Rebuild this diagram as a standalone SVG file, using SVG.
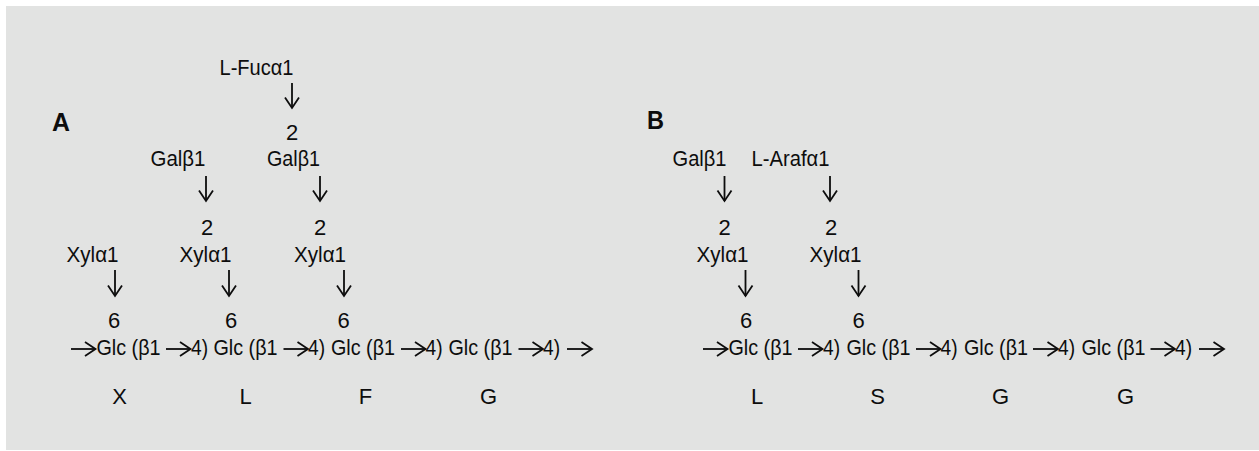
<svg xmlns="http://www.w3.org/2000/svg" width="1259" height="451" viewBox="0 0 1259 451">
<defs>
<style>
.t{font-family:"Liberation Sans",Arial,sans-serif;font-size:22px;fill:#0d0d0d}
.m{text-anchor:middle}
.h{font-family:"Liberation Sans",Arial,sans-serif;font-size:25px;font-weight:bold;fill:#0d0d0d}
.a{fill:none;stroke:#0d0d0d;stroke-width:1.8;marker-end:url(#ah)}
</style>
<marker id="ah" viewBox="-13 -9 16 18" refX="0" refY="0" markerWidth="16" markerHeight="18" markerUnits="userSpaceOnUse" orient="auto">
<path d="M-10.5,-7 L0,0 L-10.5,7" fill="none" stroke="#0d0d0d" stroke-width="1.8"/>
</marker>
</defs>
<rect x="6" y="6" width="1253" height="444" fill="#e2e3e2"/>

<g id="panelA-label"><text class="h" x="52" y="131" textLength="18" lengthAdjust="spacingAndGlyphs">A</text></g>
<g id="A-fuc"><text class="t" x="219.5" y="75" textLength="74" lengthAdjust="spacingAndGlyphs">L-Fucα1</text><text class="t m" x="292" y="140">2</text></g>
<g id="A-gal1"><text class="t" x="150.5" y="166" textLength="55" lengthAdjust="spacingAndGlyphs">Galβ1</text><text class="t m" x="207" y="235">2</text></g>
<g id="A-gal2"><text class="t" x="267" y="166" textLength="53" lengthAdjust="spacingAndGlyphs">Galβ1</text><text class="t m" x="320" y="235">2</text></g>
<g id="A-xyl1"><text class="t" x="66.5" y="262" textLength="52" lengthAdjust="spacingAndGlyphs">Xylα1</text><text class="t m" x="114" y="328">6</text></g>
<g id="A-xyl2"><text class="t" x="179.5" y="262" textLength="52" lengthAdjust="spacingAndGlyphs">Xylα1</text><text class="t m" x="231" y="328">6</text></g>
<g id="A-xyl3"><text class="t" x="294" y="262" textLength="52" lengthAdjust="spacingAndGlyphs">Xylα1</text><text class="t m" x="343.5" y="328">6</text></g>
<g id="A-chain">
<text class="t" x="96.5" y="355" textLength="64" lengthAdjust="spacingAndGlyphs">Glc (β1</text><text class="t" x="191" y="355" textLength="17" lengthAdjust="spacingAndGlyphs">4)</text>
<text class="t" x="213.5" y="355" textLength="64" lengthAdjust="spacingAndGlyphs">Glc (β1</text><text class="t" x="308" y="355" textLength="17" lengthAdjust="spacingAndGlyphs">4)</text>
<text class="t" x="331" y="355" textLength="64" lengthAdjust="spacingAndGlyphs">Glc (β1</text><text class="t" x="425.5" y="355" textLength="17" lengthAdjust="spacingAndGlyphs">4)</text>
<text class="t" x="448.5" y="355" textLength="64" lengthAdjust="spacingAndGlyphs">Glc (β1</text><text class="t" x="543" y="355" textLength="17" lengthAdjust="spacingAndGlyphs">4)</text>
</g>
<g id="A-codes">
<text class="t m" x="119.5" y="404">X</text>
<text class="t m" x="245.5" y="404">L</text>
<text class="t m" x="365.5" y="404">F</text>
<text class="t m" x="488.5" y="404">G</text>
</g>

<g id="panelB-label"><text class="h" x="647" y="129" textLength="17" lengthAdjust="spacingAndGlyphs">B</text></g>
<g id="B-gal"><text class="t" x="672.5" y="166" textLength="54" lengthAdjust="spacingAndGlyphs">Galβ1</text><text class="t m" x="724.5" y="235">2</text></g>
<g id="B-ara"><text class="t" x="751.5" y="166" textLength="78" lengthAdjust="spacingAndGlyphs">L-Arafα1</text><text class="t m" x="831" y="235">2</text></g>
<g id="B-xyl1"><text class="t" x="696.5" y="262" textLength="52" lengthAdjust="spacingAndGlyphs">Xylα1</text><text class="t m" x="746" y="328">6</text></g>
<g id="B-xyl2"><text class="t" x="809.5" y="262" textLength="52" lengthAdjust="spacingAndGlyphs">Xylα1</text><text class="t m" x="858.5" y="328">6</text></g>
<g id="B-chain">
<text class="t" x="728.5" y="355" textLength="64" lengthAdjust="spacingAndGlyphs">Glc (β1</text><text class="t" x="823" y="355" textLength="17" lengthAdjust="spacingAndGlyphs">4)</text>
<text class="t" x="846.5" y="355" textLength="64" lengthAdjust="spacingAndGlyphs">Glc (β1</text><text class="t" x="940.5" y="355" textLength="17" lengthAdjust="spacingAndGlyphs">4)</text>
<text class="t" x="964" y="355" textLength="64" lengthAdjust="spacingAndGlyphs">Glc (β1</text><text class="t" x="1058" y="355" textLength="17" lengthAdjust="spacingAndGlyphs">4)</text>
<text class="t" x="1081.5" y="355" textLength="64" lengthAdjust="spacingAndGlyphs">Glc (β1</text><text class="t" x="1175" y="355" textLength="17" lengthAdjust="spacingAndGlyphs">4)</text>
</g>
<g id="B-codes">
<text class="t m" x="757" y="404">L</text>
<text class="t m" x="877.5" y="404">S</text>
<text class="t m" x="1000.5" y="404">G</text>
<text class="t m" x="1125.5" y="404">G</text>
</g>

<g id="connectors">
<path class="a" d="M292,83 V108"/>
<path class="a" d="M206,176 V201"/>
<path class="a" d="M320,176 V201"/>
<path class="a" d="M115,270 V296"/>
<path class="a" d="M229,270 V296"/>
<path class="a" d="M344,270 V296"/>
<path class="a" d="M724.5,176 V201"/>
<path class="a" d="M830,176 V201"/>
<path class="a" d="M745.5,270 V296"/>
<path class="a" d="M858.5,270 V296"/>
<path class="a" d="M71,349 H95.5"/>
<path class="a" d="M166,349 H190.5"/>
<path class="a" d="M283.5,349 H308"/>
<path class="a" d="M401,349 H425.5"/>
<path class="a" d="M518.5,349 H543"/>
<path class="a" d="M567,349 H592"/>
<path class="a" d="M703,349 H727.5"/>
<path class="a" d="M798,349 H822.5"/>
<path class="a" d="M916,349 H940.5"/>
<path class="a" d="M1033,349 H1058"/>
<path class="a" d="M1150.5,349 H1175"/>
<path class="a" d="M1199,349 H1224"/>
</g>
</svg>
